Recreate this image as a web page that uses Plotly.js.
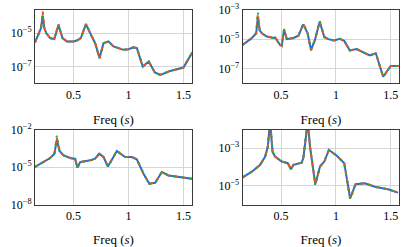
<!DOCTYPE html>
<html>
<head>
<meta charset="utf-8">
<script src="https://cdn.plot.ly/plotly-3.0.1.min.js"></script>
<style>html,body{margin:0;padding:0;background:#fff;}#chart{width:404px;height:247px;}</style>
</head>
<body>
<div id="chart"></div>
<script>
// ---- Panel 1 (top-left) ----
const freqTL = [0.15,0.182,0.205,0.22,0.235,0.252,0.288,0.325,0.364,0.4,0.44,0.5,0.53,0.567,0.613,0.652,0.697,0.737,0.773,0.818,0.864,0.955,1.0,1.046,1.077,1.13,1.185,1.24,1.29,1.38,1.5,1.58];
const blueTL  = [2.8e-6,1.0e-5,2.0e-5,1.1e-4,2.0e-5,1.0e-5,5.0e-6,4.4e-6,3.0e-5,5.0e-6,3.2e-6,3.2e-6,3.6e-6,5.0e-6,3.4e-5,1.0e-5,2.5e-6,3.4e-7,2.5e-6,3.2e-6,1.6e-6,1.0e-6,1.1e-6,1.4e-6,1.26e-6,1.0e-7,2.0e-7,4.4e-8,3.2e-8,5.5e-8,8.7e-8,6.9e-7];
const redTL   = [2.8e-6,1.0e-5,2.0e-5,2.0e-4,2.0e-5,1.0e-5,5.0e-6,4.4e-6,3.4e-5,5.0e-6,3.2e-6,3.2e-6,3.6e-6,5.0e-6,3.6e-5,1.0e-5,2.5e-6,3.0e-7,2.5e-6,3.2e-6,1.6e-6,1.0e-6,1.1e-6,1.4e-6,1.26e-6,1.0e-7,2.0e-7,4.4e-8,3.2e-8,5.5e-8,8.7e-8,6.9e-7];
const greenTL = [2.8e-6,1.0e-5,2.0e-5,1.4e-4,2.0e-5,1.0e-5,5.0e-6,4.4e-6,3.2e-5,5.0e-6,3.2e-6,3.2e-6,3.6e-6,5.0e-6,3.5e-5,1.0e-5,2.5e-6,3.2e-7,2.5e-6,3.2e-6,1.6e-6,1.0e-6,1.1e-6,1.4e-6,1.26e-6,1.0e-7,2.0e-7,4.4e-8,3.2e-8,5.5e-8,8.7e-8,6.9e-7];

// ---- Panel 2 (top-right) ----
const freqTR = [0.149,0.234,0.273,0.288,0.305,0.325,0.37,0.431,0.445,0.49,0.506,0.527,0.552,0.613,0.658,0.703,0.742,0.773,0.809,0.852,0.894,0.93,0.985,1.036,1.076,1.127,1.188,1.264,1.309,1.364,1.431,1.5,1.575];
const blueTR  = [4.1e-6,1.2e-5,2.5e-5,3.2e-4,4.0e-5,2.5e-5,1.5e-5,1.2e-5,1.3e-5,4.1e-6,3.5e-6,4.5e-5,1.0e-5,1.2e-5,1.7e-5,1.0e-4,2.5e-5,1.9e-6,8.9e-6,1.5e-4,1.4e-5,1.0e-5,8.1e-6,1.05e-5,7.6e-6,1.7e-6,2.1e-6,1.1e-6,7.9e-7,1.1e-6,2.8e-8,1.5e-7,1.5e-7];
const redTR   = [4.1e-6,1.2e-5,2.5e-5,5.0e-4,4.0e-5,2.5e-5,1.5e-5,1.2e-5,1.3e-5,4.1e-6,3.5e-6,4.8e-5,1.0e-5,1.2e-5,1.7e-5,1.1e-4,2.5e-5,1.9e-6,8.9e-6,1.6e-4,1.4e-5,1.0e-5,8.1e-6,1.05e-5,7.6e-6,1.7e-6,2.1e-6,1.1e-6,7.9e-7,1.1e-6,2.8e-8,1.5e-7,1.5e-7];
const greenTR = [4.1e-6,1.2e-5,2.5e-5,7.0e-4,4.0e-5,2.5e-5,1.5e-5,1.2e-5,1.3e-5,4.1e-6,3.5e-6,5.0e-5,1.0e-5,1.2e-5,1.7e-5,1.2e-4,2.5e-5,1.7e-6,8.9e-6,1.8e-4,1.4e-5,1.0e-5,8.1e-6,1.05e-5,7.6e-6,1.7e-6,2.1e-6,1.1e-6,7.9e-7,1.1e-6,2.6e-8,1.5e-7,1.5e-7];

// ---- Panel 3 (bottom-left) ----
const freqBL = [0.15,0.228,0.288,0.327,0.349,0.373,0.41,0.47,0.516,0.535,0.561,0.652,0.697,0.734,0.773,0.813,0.895,0.94,0.97,1.03,1.076,1.137,1.19,1.243,1.304,1.364,1.47,1.576];
const blueBL  = [1.0e-5,2.5e-5,5.2e-5,1.15e-4,1.6e-3,1.9e-4,8.5e-5,5.2e-5,4.4e-5,8.9e-6,2.5e-5,3.4e-5,4.6e-5,1.15e-4,6.3e-5,1.1e-5,1.9e-4,9.5e-5,6.3e-5,6.3e-5,4.1e-5,2.9e-6,4.6e-7,5.5e-7,4.0e-6,2.1e-6,1.6e-6,1.15e-6];
const redBL   = [1.0e-5,2.5e-5,5.2e-5,1.15e-4,2.2e-3,1.9e-4,8.5e-5,5.2e-5,4.4e-5,8.9e-6,2.5e-5,3.4e-5,4.6e-5,1.15e-4,6.3e-5,1.1e-5,1.9e-4,9.5e-5,6.3e-5,6.3e-5,4.1e-5,2.9e-6,4.6e-7,5.5e-7,4.0e-6,2.1e-6,1.6e-6,1.15e-6];
const greenBL = [1.0e-5,2.5e-5,5.2e-5,1.15e-4,3.5e-3,1.9e-4,8.5e-5,5.2e-5,4.4e-5,7.9e-6,2.5e-5,3.4e-5,4.6e-5,1.2e-4,6.3e-5,1.0e-5,2.0e-4,9.5e-5,6.3e-5,6.3e-5,4.1e-5,2.9e-6,4.4e-7,5.5e-7,4.2e-6,2.1e-6,1.6e-6,1.15e-6];

// ---- Panel 4 (bottom-right) ----
const freqBR = [0.149,0.234,0.309,0.355,0.379,0.4,0.422,0.445,0.506,0.561,0.591,0.613,0.688,0.703,0.743,0.764,0.812,0.855,0.894,0.936,1.006,1.076,1.13,1.179,1.264,1.354,1.476,1.567];
const blueBR  = [2.8e-5,5.6e-5,1.3e-4,3.6e-4,1.2e-3,2.5e-2,6.6e-4,3.6e-4,1.95e-4,1.6e-4,7.6e-5,1.3e-4,1.7e-4,3.0e-4,2.5e-2,1.2e-3,1.2e-5,1.05e-4,1.95e-4,8.1e-4,4.1e-4,1.6e-4,2.1e-6,1.2e-5,1.35e-5,8.9e-6,6.5e-6,4.3e-6];
const redBR   = [2.8e-5,5.6e-5,1.3e-4,3.6e-4,1.2e-3,3.0e-2,6.6e-4,3.6e-4,1.95e-4,1.6e-4,7.6e-5,1.3e-4,1.7e-4,3.0e-4,3.0e-2,1.2e-3,1.2e-5,1.05e-4,1.95e-4,8.1e-4,4.1e-4,1.6e-4,2.1e-6,1.2e-5,1.35e-5,8.9e-6,6.5e-6,4.3e-6];
const greenBR = [2.8e-5,5.6e-5,1.3e-4,3.6e-4,1.2e-3,4.0e-2,6.6e-4,3.6e-4,1.95e-4,1.6e-4,6.8e-5,1.3e-4,1.7e-4,3.0e-4,4.0e-2,1.2e-3,1.0e-5,1.05e-4,1.95e-4,8.1e-4,4.1e-4,1.6e-4,1.8e-6,1.2e-5,1.35e-5,8.9e-6,6.5e-6,4.3e-6];

const xTickVals = [0.5, 1, 1.5];
const xTickText = ['0.5', '1', '1.5'];
const yTicksTL = [1e-5, 1e-7];
const yTicksTR = [1e-3, 1e-5, 1e-7];
const yTicksBL = [1e-2, 1e-5, 1e-8];
const yTicksBR = [1e-3, 1e-5];
const xLabel = 'Freq (<i>s</i>)';

const colors = ['#1f6fd6', '#e8532a', '#2aa836'];
const dashes = ['solid', '4px,4px', '2px,6px'];

function expLabel(v) {
  const e = Math.round(Math.log10(v));
  return '10<sup>\u2212' + Math.abs(e) + '</sup>';
}

const panels = [
  {x: freqTL, ys: [blueTL, redTL, greenTL], ax: ''},
  {x: freqTR, ys: [blueTR, redTR, greenTR], ax: '2'},
  {x: freqBL, ys: [blueBL, redBL, greenBL], ax: '3'},
  {x: freqBR, ys: [blueBR, redBR, greenBR], ax: '4'}
];

const traces = [];
panels.forEach(p => {
  p.ys.forEach((y, i) => {
    traces.push({
      x: p.x, y: y, type: 'scatter', mode: 'lines',
      xaxis: 'x' + p.ax, yaxis: 'y' + p.ax,
      line: {color: colors[i], width: 2, dash: dashes[i]},
      showlegend: false, hoverinfo: 'skip'
    });
  });
});

const font = {family: 'Liberation Serif, serif', size: 12, color: '#000'};
const titleFont = {family: 'Liberation Serif, serif', size: 13, color: '#000'};
const frame = {showline: true, mirror: true, linecolor: '#3a3a3a', linewidth: 1,
  showgrid: true, gridcolor: '#d6d6d6', gridwidth: 1, ticks: '', zeroline: false, tickfont: font};

function xax(domain, anchor) {
  return Object.assign({}, frame, {domain: domain, anchor: anchor, range: [0.15, 1.578],
    tickmode: 'array', tickvals: xTickVals, ticktext: xTickText,
    title: {text: xLabel, font: titleFont, standoff: 14}});
}
function yax(domain, anchor, range, ticks) {
  return Object.assign({}, frame, {domain: domain, anchor: anchor, type: 'log', range: range,
    tickmode: 'array', tickvals: ticks, ticktext: ticks.map(expLabel)});
}

const xL = [35/404, 192/404], xR = [242.7/404, 399.3/404];
const yT = [1 - 83.3/247, 1 - 9.7/247], yB = [1 - 204.5/247, 1 - 129.5/247];

const layout = {
  width: 404, height: 247,
  margin: {l: 0, r: 0, t: 0, b: 0},
  paper_bgcolor: '#fff', plot_bgcolor: '#fff',
  font: font,
  xaxis: xax(xL, 'y'), yaxis: yax(yT, 'x', [-8, -3.6], yTicksTL),
  xaxis2: xax(xR, 'y2'), yaxis2: yax(yT, 'x2', [-8, -3], yTicksTR),
  xaxis3: xax(xL, 'y3'), yaxis3: yax(yB, 'x3', [-8, -2], yTicksBL),
  xaxis4: xax(xR, 'y4'), yaxis4: yax(yB, 'x4', [-6, -2], yTicksBR)
};

Plotly.newPlot('chart', traces, layout, {staticPlot: true, displayModeBar: false});
</script>
</body>
</html>
